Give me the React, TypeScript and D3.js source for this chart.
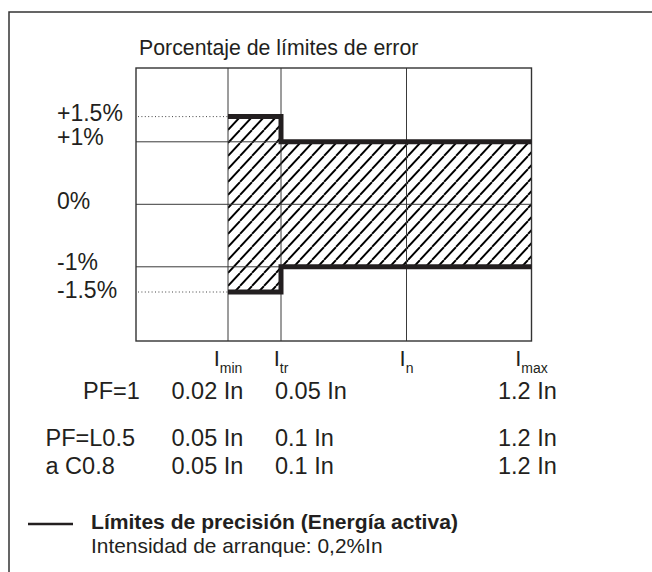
import React from "react";
import * as d3 from "d3";

// ---- data ----
const yTicks = [1.5, 1, 0, -1, -1.5];
const yTickLabels = ["+1.5%", "+1%", "0%", "-1%", "-1.5%"];
const yLabelNudge = [4.5, 3.2, 5, 3.2, 6];
const yGrid = [1, 0, -1];
const yDotted = [1.5, -1.5];

const xKeys = ["start", "min", "tr", "n", "max"];
const xTickKeys = ["min", "tr", "n", "max"];
const xGridKeys = ["min", "tr", "n"];

// accuracy limit steps (±% between current marks)
const segFrom = ["min", "tr"];
const segTo = ["tr", "max"];
const segLimit = [1.5, 1];

const pfLabels = ["PF=1", "PF=L0.5", "a C0.8"];
const iminValues = ["0.02 In", "0.05 In", "0.05 In"];
const itrValues = ["0.05 In", "0.1 In", "0.1 In"];
const imaxValues = ["1.2 In", "1.2 In", "1.2 In"];

const title = "Porcentaje de límites de error";
const legendTitle = "Límites de precisión (Energía activa)";
const legendSub = "Intensidad de arranque: 0,2%In";

const FONT = "'Liberation Sans', Arial, Helvetica, sans-serif";
const INK = "#231f20";
const GRID = "#3a3a3a";

export default function App() {
  const W = 652, H = 572;
  // schematic (piecewise) scales
  const x = d3.scaleLinear().domain([0, 1, 2, 3, 4]).range([136, 228, 281, 406.5, 531.5]);
  const xs = (k: string) => x(xKeys.indexOf(k));
  const y = d3.scaleLinear().domain([-1.5, -1, 0, 1, 1.5]).range([292, 266.8, 204.3, 141.8, 116.6]);
  const plotTop = 68, plotBottom = 341;

  // hatched band polygon
  const bandPts: [number, number][] = [];
  segLimit.forEach((v, i) => {
    bandPts.push([xs(segFrom[i]), y(v)], [xs(segTo[i]), y(v)]);
  });
  for (let i = segLimit.length - 1; i >= 0; i--) {
    bandPts.push([xs(segTo[i]), y(-segLimit[i])], [xs(segFrom[i]), y(-segLimit[i])]);
  }
  const area = d3.line()(bandPts) + "Z";

  const stepLine = (sign: number) => {
    const pts: [number, number][] = [];
    segLimit.forEach((v, i) => {
      pts.push([xs(segFrom[i]), y(sign * v)], [xs(segTo[i]), y(sign * v)]);
    });
    return d3.line()(pts) as string;
  };

  const rowY = [399, 446, 474];
  const colX = [171.5, 275, 498];

  const hw = 12, hh = 13;

  return (
    <svg width={W} height={H} style={{ position: "absolute", left: 0, top: 0, background: "#fff" }} fontFamily={FONT}>
      <defs>
        <pattern id="hatch" patternUnits="userSpaceOnUse" width={hw} height={hh}>
          <path d={`M0,${hh} L${hw},0 M${-hw},${hh} L0,0 M${hw},${hh} L${2 * hw},0`} stroke="#000" strokeWidth={1.9} />
        </pattern>
      </defs>
      {/* outer frame (left + top) */}
      <path d={`M9,${H + 5} V12 H${W + 5}`} fill="none" stroke="#333" strokeWidth={1.5} />

      <text x={139} y={55} fontSize={21.3} fill={INK}>{title}</text>

      {/* hatched band */}
      <path d={area} fill="url(#hatch)" stroke="none" />

      {/* grid */}
      {yGrid.map((v) => (
        <line key={"g" + v} x1={x(0)} x2={x(4)} y1={y(v)} y2={y(v)} stroke={GRID} strokeWidth={1} />
      ))}
      {xGridKeys.map((k) => (
        <line key={"v" + k} x1={xs(k)} x2={xs(k)} y1={plotTop} y2={plotBottom} stroke={GRID} strokeWidth={1} />
      ))}
      {yDotted.map((v) => (
        <line key={"d" + v} x1={x(0) + 2} x2={xs("min")} y1={y(v)} y2={y(v)} stroke="#444" strokeWidth={1} strokeDasharray="1,2.4" />
      ))}
      <rect x={x(0)} y={plotTop} width={x(4) - x(0)} height={plotBottom - plotTop} fill="none" stroke="#333" strokeWidth={1.4} />

      {/* limit step lines */}
      <path d={stepLine(1)} fill="none" stroke={INK} strokeWidth={5} strokeLinejoin="miter" />
      <path d={stepLine(-1)} fill="none" stroke={INK} strokeWidth={5} strokeLinejoin="miter" />

      {/* y labels */}
      {yTicks.map((v, i) => (
        <text key={"yl" + v} x={57} y={y(v) + yLabelNudge[i]} fontSize={23} fill={INK}>
          {yTickLabels[i]}
        </text>
      ))}

      {/* x labels */}
      {xTickKeys.map((k) => (
        <text key={"xl" + k} x={xs(k)} y={366} fontSize={22} fill={INK} textAnchor="middle">
          I<tspan fontSize={14} dy={7}>{k}</tspan>
        </text>
      ))}

      {/* table */}
      {pfLabels.map((p, i) => (
        <g key={"r" + i} fontSize={23.5} fill={INK}>
          <text x={i === 0 ? 83 : 45.5} y={rowY[i]}>{p}</text>
          <text x={colX[0]} y={rowY[i]}>{iminValues[i]}</text>
          <text x={colX[1]} y={rowY[i]}>{itrValues[i]}</text>
          <text x={colX[2]} y={rowY[i]}>{imaxValues[i]}</text>
        </g>
      ))}

      {/* legend */}
      <line x1={28} x2={73} y1={524} y2={524} stroke={INK} strokeWidth={2.6} />
      <text x={91} y={529} fontSize={21.1} fontWeight="bold" fill={INK}>{legendTitle}</text>
      <text x={91} y={553} fontSize={20.9} fill={INK}>{legendSub}</text>
    </svg>
  );
}
